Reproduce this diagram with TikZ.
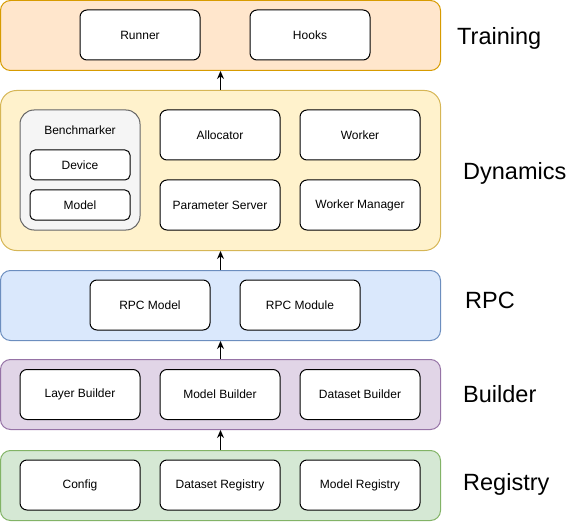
\documentclass[tikz,border=0pt]{standalone}
\usepackage{fontspec}
\setmainfont{Liberation Sans}
\usetikzlibrary{arrows.meta}

\definecolor{trainfill}{HTML}{FFE6CC}
\definecolor{trainline}{HTML}{D79B00}
\definecolor{dynfill}{HTML}{FFF2CC}
\definecolor{dynline}{HTML}{D6B656}
\definecolor{rpcfill}{HTML}{DAE8FC}
\definecolor{rpcline}{HTML}{6C8EBF}
\definecolor{buildfill}{HTML}{E1D5E7}
\definecolor{buildline}{HTML}{9673A6}
\definecolor{regfill}{HTML}{D5E8D4}
\definecolor{regline}{HTML}{82B366}
\definecolor{benchfill}{HTML}{F5F5F5}
\definecolor{benchline}{HTML}{666666}

\begin{document}
\begin{tikzpicture}[x=1pt, y=-1pt,
  layer/.style={draw, line width=1pt, rounded corners=10pt, minimum width=440pt, minimum height=70pt, inner sep=0pt},
  part/.style={draw=black, fill=white, line width=1pt, rounded corners=7pt, minimum width=120pt, minimum height=50pt, inner sep=0pt, font=\fontsize{12}{14}\selectfont},
  tag/.style={anchor=base west, inner sep=0pt, font=\fontsize{23.5}{28}\selectfont},
  up/.style={-{Stealth[length=8pt,width=7pt]}, line width=1pt}]
\useasboundingbox (0,0) rectangle (569,521);

% layers
\node[layer, fill=trainfill, draw=trainline] (training) at (220.5, 35.5) {};
\node[layer, fill=dynfill, draw=dynline, minimum height=160pt, rounded corners=16pt] (dynamics) at (220.5, 170.5) {};
\node[layer, fill=rpcfill, draw=rpcline] (rpc) at (220.5, 305.5) {};
\node[layer, fill=buildfill, draw=buildline] (builder) at (220.5, 394.5) {};
\node[layer, fill=regfill, draw=regline] (registry) at (220.5, 485.5) {};

% training
\node[part] (runner) at (140, 35) {Runner};
\node[part] (hooks) at (310, 35) {Hooks};

% dynamics
\node[part, fill=benchfill, draw=benchline, minimum height=120pt, rounded corners=14pt] (bench) at (80, 170) {};
\node[font=\fontsize{12}{14}\selectfont] (benchname) at (80, 130) {Benchmarker};
\node[part, minimum width=100pt, minimum height=30pt, rounded corners=5pt] (device) at (80, 165) {Device};
\node[part, minimum width=100pt, minimum height=30pt, rounded corners=5pt] (model) at (80, 205) {Model};
\node[part] (allocator) at (220, 135) {Allocator};
\node[part] (paramserver) at (220, 205) {Parameter Server};
\node[part] (worker) at (360, 135) {Worker};
\node[part] (workermgr) at (360, 205) {Worker Manager};

% rpc
\node[part] (rpcmodel) at (150, 305) {RPC Model};
\node[part] (rpcmodule) at (300, 305) {RPC Module};

% builder
\node[part] (layerb) at (80, 394.5) {Layer Builder};
\node[part] (modelb) at (220, 394.5) {Model Builder};
\node[part] (datasetb) at (360, 394.5) {Dataset Builder};

% registry
\node[part] (config) at (80, 485) {Config};
\node[part] (datasetr) at (220, 485) {Dataset Registry};
\node[part] (modelr) at (360, 485) {Model Registry};

% names
\node[tag] (trainingtag) at (457, 45) {Training};
\node[tag] (dynamicstag) at (463, 179) {Dynamics};
\node[tag] (rpctag) at (465, 308) {RPC};
\node[tag] (buildertag) at (463, 402) {Builder};
\node[tag] (registrytag) at (463, 490) {Registry};

\draw[up] (dynamics.north) -- (training.south);
\draw[up] (rpc.north) -- (dynamics.south);
\draw[up] (builder.north) -- (rpc.south);
\draw[up] (registry.north) -- (builder.south);
\end{tikzpicture}
\end{document}
